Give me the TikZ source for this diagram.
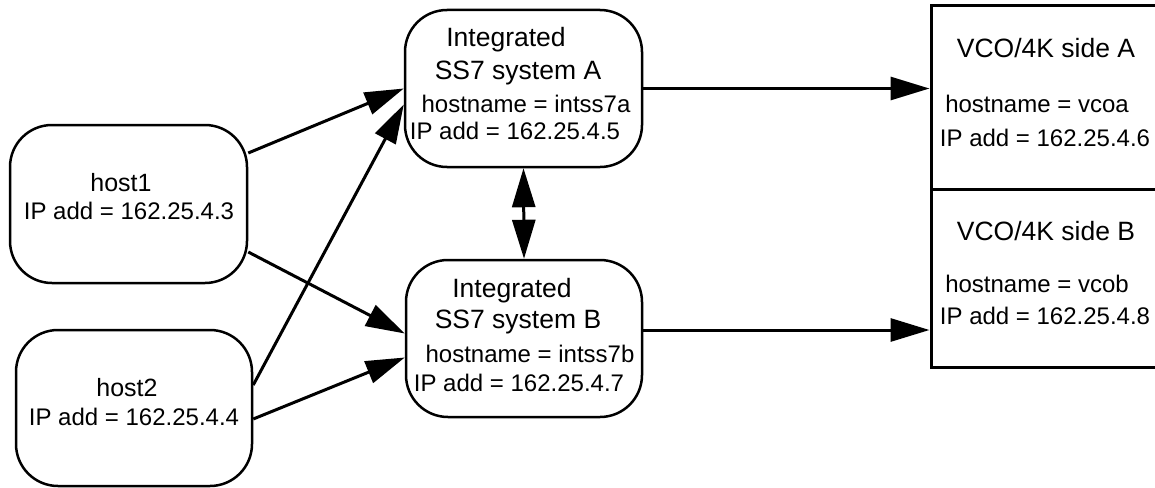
\documentclass[tikz,border=0pt]{standalone}
\usepackage{fontspec}
\setmainfont{Liberation Sans}
\usetikzlibrary{arrows.meta}
\tikzset{
  rbox/.style={draw, line width=2.5pt, rounded corners=42pt, inner sep=0pt},
  sbox/.style={draw, line width=3pt, inner sep=0pt},
  ttl/.style={anchor=base, inner sep=0pt, font=\fontsize{26.5}{30}\selectfont},
  hst/.style={anchor=base, inner sep=0pt, font=\fontsize{25}{29}\selectfont},
  dtl/.style={anchor=base, inner sep=0pt, font=\fontsize{24}{28}\selectfont},
  conn/.style={line width=3pt, -{Triangle[length=39pt,width=23pt]}},
  dconn/.style={line width=3pt, {Triangle[length=39pt,width=23pt]}-{Triangle[length=39pt,width=23pt]}},
}
\begin{document}
\begin{tikzpicture}[x=1pt,y=-1pt]
\useasboundingbox (0,0) rectangle (1155,487);
% boxes
\node[rbox, minimum width=237pt, minimum height=158pt] (host1) at (128.5,204) {};
\node[rbox, minimum width=236pt, minimum height=156pt] (host2) at (134,408) {};
\node[rbox, minimum width=237pt, minimum height=157pt] (sysA) at (523.5,88.5) {};
\node[rbox, minimum width=236pt, minimum height=157pt] (sysB) at (524,338.5) {};
\node[sbox, minimum width=227pt, minimum height=183pt] (vcoA) at (1044.5,97.5) {};
\node[sbox, minimum width=227pt, minimum height=178pt] (vcoB) at (1044.5,278) {};
% texts
\node[hst] (h1a) at (121,191) {host1};
\node[dtl] (h1b) at (129,219) {IP add = 162.25.4.3};
\node[hst] (h2a) at (127,396) {host2};
\node[dtl] (h2b) at (134,425) {IP add = 162.25.4.4};
\node[ttl] (sa1) at (506,47) {Integrated};
\node[ttl] (sa2) at (518,79) {SS7 system A};
\node[dtl] (sa3) at (526,112) {hostname = intss7a};
\node[dtl] (sa4) at (515,139) {IP add = 162.25.4.5};
\node[ttl] (sb1) at (512,297) {Integrated};
\node[ttl] (sb2) at (518,328) {SS7 system B};
\node[dtl] (sb3) at (530,362) {hostname = intss7b};
\node[dtl] (sb4) at (519,391) {IP add = 162.25.4.7};
\node[ttl] (va1) at (1046,57) {VCO/4K side A};
\node[dtl] (va2) at (1037,112) {hostname = vcoa};
\node[dtl] (va3) at (1045,146) {IP add = 162.25.4.6};
\node[ttl] (vb1) at (1046,240) {VCO/4K side B};
\node[dtl] (vb2) at (1037,292) {hostname = vcob};
\node[dtl] (vb3) at (1045,324) {IP add = 162.25.4.8};
% connectors
\draw[conn] ([yshift=51pt]host1.east) -- (sysA.west);
\draw[conn] ([yshift=23pt]host2.east) -- ([yshift=-16pt]sysA.west);
\draw[conn] ([yshift=-48pt]host1.east) -- ([yshift=5pt]sysB.west);
\draw[conn] ([yshift=-11pt]host2.east) -- ([yshift=-19pt]sysB.west);
\draw[conn] (sysA.east) -- (sysA.east -| vcoA.west);
\coordinate (bout) at ([yshift=8.5pt]sysB.east);
\draw[conn] (bout) -- (bout -| vcoB.west);
\draw[dconn] (sysA.south) -- (sysB.north);
\end{tikzpicture}
\end{document}
